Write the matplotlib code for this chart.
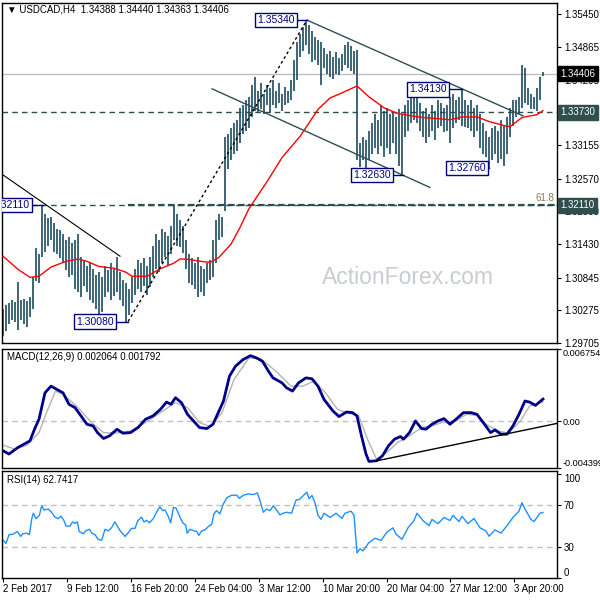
import matplotlib
matplotlib.use("Agg")
import matplotlib.pyplot as plt

plt.rcParams['font.family'] = ['Liberation Sans', 'DejaVu Sans']

# H4 bars, highs and lows
highs = [
    1.3030, 1.3036, 1.3040, 1.3045, 1.3042, 1.3077, 1.3046, 1.3048, 1.3044, 1.3050,
    1.3085, 1.3137, 1.3125, 1.3211, 1.3195, 1.3188, 1.3190, 1.3180, 1.3170, 1.3168,
    1.3160, 1.3150, 1.3155, 1.3145, 1.3150, 1.3160, 1.3120, 1.3115, 1.3105, 1.3110,
    1.3100, 1.3090, 1.3095, 1.3085, 1.3105, 1.3098, 1.3110, 1.3100, 1.3120, 1.3095,
    1.3080, 1.3075, 1.3065, 1.3085, 1.3100, 1.3115, 1.3110, 1.3118, 1.3105, 1.3120,
    1.3140, 1.3160, 1.3150, 1.3170, 1.3165, 1.3158, 1.3175, 1.3211, 1.3195, 1.3185,
    1.3175, 1.3150, 1.3125, 1.3118, 1.3110, 1.3120, 1.3105, 1.3100, 1.3110, 1.3115,
    1.3150, 1.3185, 1.3195, 1.3190, 1.3330, 1.3335, 1.3345, 1.3355, 1.3360, 1.3380,
    1.3385, 1.3395, 1.3400, 1.3420, 1.3435, 1.3410, 1.3425, 1.3405, 1.3420, 1.3415,
    1.3430, 1.3410, 1.3425, 1.3405, 1.3418, 1.3410, 1.3430, 1.3465, 1.3495, 1.3510,
    1.3522, 1.3534, 1.3525, 1.3515, 1.3505, 1.3500, 1.3495, 1.3485, 1.3475, 1.3480,
    1.3470, 1.3478, 1.3468, 1.3475, 1.3490, 1.3495, 1.3488, 1.3480, 1.3482, 1.3320,
    1.3330, 1.3325, 1.3340, 1.3355, 1.3370, 1.3360, 1.3385, 1.3375, 1.3380, 1.3370,
    1.3375, 1.3365, 1.3378, 1.3370, 1.3385, 1.3395, 1.3400, 1.3405, 1.3400, 1.3390,
    1.3375, 1.3380, 1.3370, 1.3385, 1.3375, 1.3395, 1.3390, 1.3380, 1.3385, 1.3400,
    1.3405, 1.3395, 1.3400, 1.3413, 1.3395, 1.3385, 1.3395, 1.3380, 1.3385, 1.3370,
    1.3355, 1.3340, 1.3330, 1.3345, 1.3350, 1.3340, 1.3360, 1.3350, 1.3365, 1.3380,
    1.3395, 1.3395, 1.3400, 1.3455, 1.3450, 1.3415, 1.3405, 1.3400, 1.3415, 1.3435,
    1.3444]
lows = [
    1.2983, 1.2992, 1.3004, 1.3010, 1.3008, 1.2993, 1.3010, 1.3003, 1.2998, 1.3015,
    1.3030, 1.3078, 1.3075, 1.3120, 1.3130, 1.3140, 1.3150, 1.3130, 1.3125, 1.3118,
    1.3110, 1.3098, 1.3085, 1.3090, 1.3065, 1.3060, 1.3050, 1.3070, 1.3060, 1.3045,
    1.3040, 1.3030, 1.3015, 1.3024, 1.3050, 1.3060, 1.3045, 1.3052, 1.3060, 1.3045,
    1.3035, 1.3008, 1.3020, 1.3040, 1.3055, 1.3065, 1.3060, 1.3070, 1.3055, 1.3068,
    1.3085, 1.3100, 1.3095, 1.3110, 1.3120, 1.3105, 1.3125, 1.3150, 1.3140, 1.3138,
    1.3128, 1.3100, 1.3075, 1.3072, 1.3065, 1.3050, 1.3060, 1.3052, 1.3075, 1.3080,
    1.3085, 1.3110, 1.3150, 1.3155, 1.3200, 1.3275, 1.3290, 1.3300, 1.3305, 1.3320,
    1.3335, 1.3340, 1.3345, 1.3365, 1.3375, 1.3372, 1.3378, 1.3370, 1.3385, 1.3372,
    1.3385, 1.3380, 1.3390, 1.3375, 1.3385, 1.3390, 1.3395, 1.3410, 1.3430, 1.3470,
    1.3480, 1.3490, 1.3475, 1.3460, 1.3465, 1.3455, 1.3420, 1.3450, 1.3440, 1.3435,
    1.3432, 1.3440, 1.3438, 1.3445, 1.3455, 1.3450, 1.3445, 1.3440, 1.3290, 1.3278,
    1.3290, 1.3273, 1.3290, 1.3300, 1.3310, 1.3300, 1.3315, 1.3295, 1.3310, 1.3300,
    1.3320, 1.3300, 1.3280, 1.3263, 1.3330, 1.3340, 1.3355, 1.3360, 1.3355, 1.3340,
    1.3330, 1.3320, 1.3330, 1.3340, 1.3325, 1.3345, 1.3350, 1.3338, 1.3340, 1.3320,
    1.3345, 1.3355, 1.3360, 1.3350, 1.3348, 1.3345, 1.3340, 1.3330, 1.3340, 1.3310,
    1.3300, 1.3295, 1.3276, 1.3290, 1.3300, 1.3285, 1.3292, 1.3280, 1.3300, 1.3330,
    1.3350, 1.3365, 1.3370, 1.3380, 1.3390, 1.3385, 1.3378, 1.3378, 1.3375, 1.3395,
    1.3436]

# red moving average (bar index, value)
ma_idx = [0, 5, 9, 12, 16, 21, 25, 28, 32, 37, 41, 43, 48, 52, 57, 59, 61, 66, 69, 72,
          76, 79, 82, 88, 93, 99, 105, 109, 113, 118, 122, 127, 131, 136, 140, 145, 149,
          153, 158, 162, 167, 169, 173, 178, 180]
ma_val = [1.3122, 1.3099, 1.3085, 1.3087, 1.3103, 1.3113, 1.3117, 1.3113, 1.3104, 1.3101,
          1.3094, 1.3087, 1.3087, 1.3099, 1.3110, 1.3117, 1.3117, 1.3113, 1.3111, 1.3120,
          1.3143, 1.3172, 1.3205, 1.3252, 1.3294, 1.3331, 1.3378, 1.3398, 1.3407, 1.3419,
          1.3400, 1.3381, 1.3372, 1.3367, 1.3364, 1.3362, 1.3360, 1.3365, 1.3365, 1.3357,
          1.3350, 1.3348, 1.3364, 1.3369, 1.3376]

# MACD(12,26,9), values in 1e-3
macd_idx = [0, 2, 5, 8, 9, 10.5, 12, 13, 14, 16, 18, 20, 22, 24, 26, 28, 30, 31.5, 33.5, 35.5,
            38, 40, 42.5, 45, 47.5, 50, 52.5, 54.5, 56, 57.5, 59.5, 61.5, 63.5, 65.5, 68, 70,
            72, 73.5, 75.5, 77.5, 80, 82.5, 84.5, 86.5, 88.5, 90, 93, 94.5, 96.5, 98.5, 101,
            103, 105, 107, 110, 112, 114.5, 116.5, 118, 119.5, 121, 122, 124.5, 126.5, 128.5,
            130.5, 132.5, 133.5, 135.5, 137.5, 139.5, 141, 143, 145, 147, 149, 151, 153.5, 156,
            158, 160.5, 162.5, 164, 166, 168, 170, 172, 174, 175.5, 177.5, 180]
macd_val = [-2.78, -3.09, -2.47, -2.01, -1.85, -0.77, 0.17, 1.41, 2.65, 3.27, 2.96, 2.65, 1.57,
            1.26, 0.48, -0.30, -0.45, -1.08, -1.63, -1.39, -0.77, -1.14, -1.08, -0.61, 0.17,
            0.48, 1.10, 1.78, 1.57, 2.19, 1.72, 0.63, 0.01, -0.61, -0.70, -0.30, 0.94, 1.88,
            4.21, 5.14, 5.76, 6.13, 5.92, 5.60, 4.67, 4.05, 3.58, 3.12, 2.81, 3.58, 4.05, 3.96,
            3.27, 2.03, 0.94, 0.42, 0.85, 0.79, 0.48, -1.39, -3.09, -3.78, -3.72, -3.25, -2.32,
            -1.70, -1.45, -1.70, -1.08, 0.01, -0.70, -0.76, -0.30, 0.01, 0.23, -0.30, 0.17, 0.79,
            0.79, 0.63, -0.30, -1.08, -0.83, -1.23, -1.23, -0.45, 0.63, 1.88, 1.78, 1.47, 2.06]
sig_idx = [0, 4, 8, 12, 14.5, 17.5, 20, 24.5, 29.5, 33.5, 37.5, 42.5, 47.5, 52.5, 57.5, 61.5,
           65.5, 69, 73, 77, 82, 86, 91, 96, 100, 103.5, 107.5, 111.5, 115, 118.5, 121.5, 124.5,
           128, 131.5, 135.5, 139.5, 143, 147, 151, 154.5, 158, 161, 165, 168.5, 172.5, 175.5, 180]
sig_val = [-2.26, -2.63, -2.26, -1.08, 0.79, 2.81, 2.50, 1.41, -0.14, -1.08, -1.14, -0.92, -0.14,
           0.79, 1.72, 1.26, -0.14, -0.52, 0.79, 3.89, 5.92, 5.82, 4.67, 3.27, 3.27, 3.74, 2.65,
           1.10, 0.73, 0.54, -1.70, -3.56, -2.94, -2.01, -1.39, -0.61, -0.45, -0.08, 0.01, 0.63,
           0.54, -0.30, -0.92, -1.14, 0.01, 1.41, 1.79]

# RSI(14)
rsi_idx = [0, 1, 2, 3.4, 4.8, 5.9, 6.6, 7.9, 8.8, 9.6, 10.1, 11, 12.1, 12.9, 13.7, 15.1, 16.2,
           17.3, 18.4, 19.3, 20.3, 21, 22.3, 23.2, 24, 24.8, 25.4, 26.8, 27.7, 28.8, 29.6, 30.7,
           31.8, 32.9, 34, 35.1, 36.2, 37.3, 38.1, 39, 40.7, 41.8, 42.9, 44, 44.9, 46.2, 47,
           47.9, 48.8, 50.1, 51.2, 52.3, 53.2, 54, 55.1, 55.9, 56.8, 57.7, 59, 59.9, 60.9, 61.4,
           62.3, 63.4, 64.6, 65.3, 66.2, 67.3, 68.4, 69.6, 70.3, 71.2, 72.3, 73.4, 74.6, 76.2,
           77.9, 78.8, 80.1, 81.8, 83.4, 84.8, 85.7, 86.8, 87.9, 89, 90.1, 91.2, 92.3, 93.4,
           94.6, 96.2, 97, 97.7, 98.8,
           99.8, 100.5, 101.3, 102, 103, 104, 105, 106, 107, 109, 111, 113, 114, 116, 117, 118,
           119, 120, 122, 124, 126, 128, 130, 131, 133, 135, 137, 138, 140, 142, 143, 145, 147,
           149, 150, 152, 153, 155, 157, 159, 161, 162, 164, 166, 168, 170, 172, 173, 174, 176,
           177, 178, 179, 180]
rsi_val = [36.2, 33.1, 41.4, 42.0, 44.5, 39.8, 42.3, 42.9, 41.4, 56.8, 62.0, 56.8, 59.8, 69.1,
           65.1, 66.0, 62.9, 58.3, 56.8, 59.2, 55.2, 49.7, 49.7, 53.7, 52.2, 53.7, 44.5, 42.3,
           45.4, 46.6, 42.9, 41.4, 36.8, 36.2, 46.6, 45.1, 48.2, 53.7, 49.7, 45.4, 39.8, 43.5,
           47.5, 47.5, 54.6, 58.3, 53.7, 55.2, 52.8, 56.8, 62.9, 68.2, 64.5, 65.1, 58.9, 52.8,
           67.5, 66.9, 58.3, 52.8, 50.6, 42.9, 46.6, 45.4, 44.5, 40.8, 45.1, 46.0, 49.1, 51.5,
           61.4, 64.5, 61.4, 70.6, 76.8, 79.2, 79.2, 76.2, 79.2, 80.5, 79.8, 81.4, 73.7, 62.9,
           66.0, 64.5, 69.1, 65.1, 60.5, 62.0, 62.9, 62.0, 69.1, 74.6, 75.2,
           78, 80, 82, 76, 79, 72, 60, 56, 62, 58, 62, 57, 62, 64, 60, 24, 28, 26, 34, 38,
           36, 44, 48, 42, 37, 48, 55, 62, 55, 50, 56, 52, 58, 55, 60, 54, 59, 52, 57, 48,
           45, 40, 46, 43, 50, 58, 64, 72, 66, 56, 54, 58, 62, 62.74]

price_ticks = [1.35450, 1.34865, 1.34295, 1.33725, 1.33155, 1.32570, 1.32000, 1.31430,
               1.30845, 1.30275, 1.29705]
price_tick_labels = ['1.35450', '1.34865', '1.34295', '', '1.33155', '1.32570', '1.32000',
                     '1.31430', '1.30845', '1.30275', '1.29705']
date_idx = [0, 21.3, 42.7, 64, 85.3, 106.7, 128, 149, 170.3]
date_labels = ['2 Feb 2017', '9 Feb 12:00', '16 Feb 20:00', '24 Feb 04:00', '3 Mar 12:00',
               '10 Mar 20:00', '20 Mar 04:00', '27 Mar 12:00', '3 Apr 20:00']

# marked swing points: (bar index, price, label)
swings = [(13.3, 1.3211, '1.32110'), (41.7, 1.3008, '1.30080'), (101.3, 1.3534, '1.35340'),
          (133.3, 1.3263, '1.32630'), (153, 1.3413, '1.34130'), (162, 1.3276, '1.32760')]
swing_box_edge = [9.3, 37.3, 97.6, 129.6, 148.3, 161.3]

last_price = 1.34406
support = 1.33730
fib_level = 1.32110

BAR = '#1d4b60'
NAVY = '#000080'
SLATE = '#2f4f4f'
XLIM = (-0.33, 184.67)

fig = plt.figure(figsize=(6, 6), dpi=100)


def panel(top, bottom):
    a = fig.add_axes([2 / 600, 1 - bottom / 600, 555 / 600, (bottom - top) / 600])
    a.set_xlim(*XLIM)
    a.yaxis.tick_right()
    a.tick_params(axis='y', direction='out', length=3, width=0.8, labelsize=7, pad=2)
    a.set_xticks([])
    for s in a.spines.values():
        s.set_linewidth(1.0)
        s.set_color('black')
    return a


ax = panel(3, 343)
axm = panel(349, 468)
axr = panel(471, 578)

# ---- price panel ----
ax.set_ylim(1.29722, 1.35638)
ax.axhline(last_price, color='#c0c0c0', lw=1, zorder=1)
ax.axhline(support, color=SLATE, lw=1, ls=(0, (4, 3)), zorder=1)
ax.axhline(fib_level, color=SLATE, lw=1, ls=(0, (4, 3)), zorder=1)
ax.plot([41.7, XLIM[1]], [fib_level, fib_level], color=SLATE, lw=1.6, ls=(0, (3, 1.5)), zorder=1)
ax.vlines(range(len(highs)), lows, highs, color=BAR, lw=1.2, zorder=2)
ax.plot(ma_idx, ma_val, color='red', lw=1, zorder=3)

# trend lines
ax.plot([-0.33, 39], [1.3265, 1.3122], color='black', lw=0.8, zorder=3)
ax.plot([41.7, 101.3], [1.3008, 1.3534], color='black', lw=1, ls=(0, (2, 2)), zorder=3)
ax.plot([101.3, 173.3], [1.3534, 1.3367], color=SLATE, lw=1, zorder=3)
ax.plot([69.7, 142.3], [1.3414, 1.3242], color=SLATE, lw=1, zorder=3)

for (i, p, lab), edge in zip(swings, swing_box_edge):
    ax.plot([edge, i], [p, p], color=NAVY, lw=1, zorder=4)
    ax.text(edge - 0.4, p, lab, ha='right', va='center', fontsize=7.5, color=NAVY, zorder=5,
            clip_on=True,
            bbox=dict(boxstyle='square,pad=0.2', fc='white', ec=NAVY, lw=1))

ax.text(XLIM[1] - 1, fib_level + 0.0003, '61.8', ha='right', va='bottom', fontsize=7,
        color='#8b7d55')
ax.set_yticks(price_ticks)
ax.set_yticklabels(price_tick_labels)
ytr = ax.get_yaxis_transform()
for val, fc in [(last_price, 'black'), (support, SLATE), (fib_level, SLATE)]:
    ax.text(1.006, val, '%.5f' % val, transform=ytr, ha='left', va='center', fontsize=7,
            color='white', clip_on=False, zorder=10,
            bbox=dict(boxstyle='square,pad=0.25', fc=fc, ec=fc))

fig.text(7 / 600, 1 - 10 / 600, '\u25bc USDCAD,H4  1.34388 1.34440 1.34363 1.34406',
         ha='left', va='center', fontsize=7, color='black')
fig.text(408 / 600, 1 - 277 / 600, 'ActionForex.com', ha='center', va='center',
         fontsize=16.5, color='#c9ccd1')

# ---- MACD panel ----
axm.set_ylim(-0.004399, 0.006754)
axm.axhline(0, color='#c0c0c0', lw=1, ls=(0, (4, 3)))
axm.plot(sig_idx, [v / 1000 for v in sig_val], color='#b4b4b4', lw=1)
axm.plot(macd_idx, [v / 1000 for v in macd_val], color='#00008b', lw=2)
axm.plot([124.7, XLIM[1]], [-0.00372, -0.00022], color='black', lw=1)
axm.set_yticks([0.006754, 0.0, -0.004399])
axm.set_yticklabels(['0.006754', '0.00', '-0.004399'])
axm.tick_params(axis='y', labelsize=6.6, pad=1)
labs = axm.get_yticklabels()
labs[0].set_va('top')
labs[2].set_va('bottom')
fig.text(7 / 600, 1 - 357 / 600, 'MACD(12,26,9) 0.002064 0.001792', ha='left', va='center',
         fontsize=7, color='black')

# ---- RSI panel ----
axr.set_ylim(0.5, 102.4)
axr.axhline(70, color='#c0c0c0', lw=1, ls=(0, (4, 3)))
axr.axhline(30, color='#c0c0c0', lw=1, ls=(0, (4, 3)))
axr.plot(rsi_idx, rsi_val, color='#1e90ff', lw=1)
axr.set_yticks([100, 70, 30, 0])
axr.set_yticklabels(['100', '70', '30', '0'])
rl = axr.get_yticklabels()
rl[0].set_va('top')
rl[3].set_va('bottom')
fig.text(7 / 600, 1 - 480 / 600, 'RSI(14) 62.7417', ha='left', va='center', fontsize=7,
         color='black')

axr.set_xticks(date_idx)
axr.set_xticklabels(date_labels, ha='left', fontsize=7)
axr.tick_params(axis='x', direction='out', length=3, width=0.8, pad=1)

fig.savefig('out.png', dpi=100, facecolor='white')
